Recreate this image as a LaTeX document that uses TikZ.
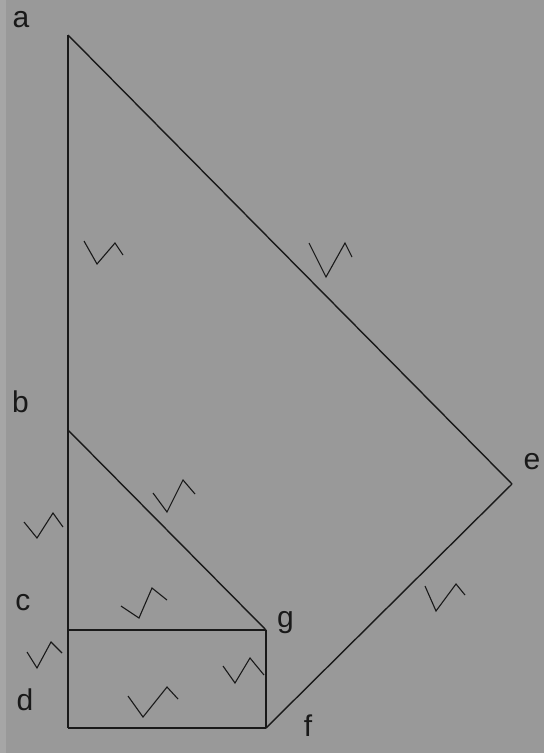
\documentclass[tikz,border=0pt]{standalone}
\usepackage{fontspec}
\setmainfont{Liberation Sans}
\begin{document}
\begin{tikzpicture}[x=1pt,y=-1pt,
  edge/.style={line width=1.4pt,draw=black!90},
  zig/.style={line width=1.1pt,draw=black!90,line join=miter},
  lbl/.style={anchor=base,font=\fontsize{30}{30}\selectfont,text=black!90,inner sep=0pt}]
\fill[fill={rgb,255:red,153;green,153;blue,153}] (0,0) rectangle (544,753);
\fill[fill={rgb,255:red,166;green,166;blue,166}] (0,0) rectangle (6,753);
\useasboundingbox (0,0) rectangle (544,753);
% vertices
\coordinate (a) at (68,35);
\coordinate (b) at (68,430);
\coordinate (c) at (68,630);
\coordinate (d) at (68,728);
\coordinate (e) at (512,484);
\coordinate (f) at (266,728);
\coordinate (g) at (266,630);
% edges
\draw[edge] (a) -- (b);
\draw[edge] (b) -- (c);
\draw[edge] (c) -- (d);
\draw[edge] (d) -- (f);
\draw[edge] (f) -- (g);
\draw[edge] (g) -- (c);
\draw[edge] (b) -- (g);
\draw[edge] (a) -- (e);
\draw[edge] (e) -- (f);
% labels
\node[lbl] (la) at (21,27) {a};
\node[lbl] (lb) at (20.5,412) {b};
\node[lbl] (lc) at (23,610) {c};
\node[lbl] (ld) at (25,710) {d};
\node[lbl] (le) at (532,469) {e};
\node[lbl] (lg) at (285.5,627) {g};
\node[lbl] (lf) at (308,736) {f};
% marks
\draw[zig] (84,241) -- (97,264) -- (115,243) -- (123,255);
\draw[zig] (309,243) -- (326,277) -- (345,243) -- (352,257);
\draw[zig] (153,493) -- (167,512) -- (183,480) -- (195,494);
\draw[zig] (24,522) -- (37,538) -- (53,513) -- (63,527);
\draw[zig] (121,606) -- (139,618) -- (152,588) -- (167,600);
\draw[zig] (27,652) -- (37,668) -- (51,642) -- (62,653);
\draw[zig] (128,696) -- (143,717) -- (167,687) -- (178,699);
\draw[zig] (223,666) -- (235,683) -- (250,658) -- (264,675);
\draw[zig] (425,586) -- (436,611) -- (456,584) -- (465,595);
\end{tikzpicture}
\end{document}
